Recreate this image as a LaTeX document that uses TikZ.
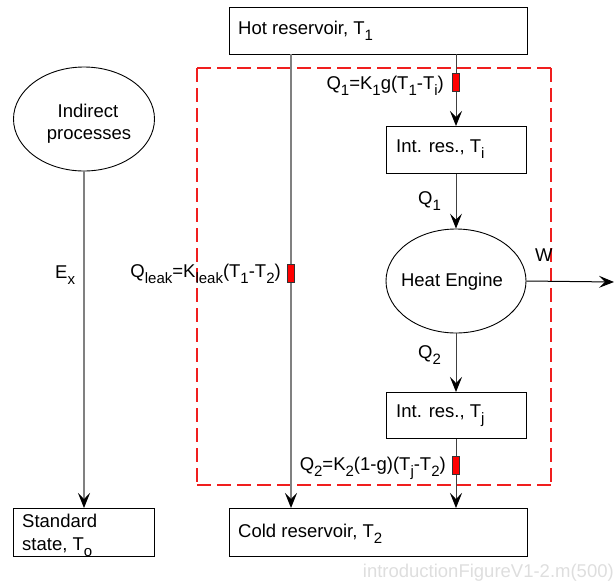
\documentclass[tikz,border=0pt]{standalone}
\usepackage{fontspec}
\setmainfont{Liberation Sans}
\usetikzlibrary{arrows.meta,shapes.geometric}
\definecolor{dashred}{RGB}{240,30,30}
\newcommand\lsub[1]{\raisebox{-6pt}{\fontsize{15}{15}\selectfont #1}}
\begin{document}
\begin{tikzpicture}[x=1pt,y=-1pt,
  every node/.style={font=\fontsize{18.5}{22}\selectfont, inner sep=0pt},
  boxnode/.style={draw=black, line width=0.9pt, rectangle, anchor=north west},
  ellnode/.style={draw=black, line width=0.9pt, ellipse},
  flow/.style={draw=black!75, line width=1pt},
  leak/.style={draw=black!50, line width=1.6pt},
  tip/.style={-{Stealth[length=15pt,width=12pt,inset=6pt,color=black]}},
  valve/.style={draw=black!80, fill=red, line width=0.6pt},
  lbl/.style={anchor=base east},
  bound/.style={draw=dashred, line width=1.1pt, dash pattern=on 14pt off 6pt},
]
\useasboundingbox (0,0) rectangle (614,582);
% boundary
\coordinate (b1) at (197,68);
\coordinate (b2) at (551,68);
\coordinate (b3) at (551,485);
\coordinate (b4) at (197,485);
\draw[bound] (b1) -- (b2);
\draw[bound] (b2) -- (b3);
\draw[bound] (b4) -- (b3);
\draw[bound] (b1) -- (b4);
% boxes
\node[boxnode, minimum width=298pt, minimum height=47pt] (hot) at (229,7) {};
\node[anchor=base west] at (238,34) {Hot reservoir, T\lsub{1}};
\node[boxnode, minimum width=140pt, minimum height=47pt] (ri) at (386,126) {};
\node[anchor=base west] at (396,152) {Int. res., T\lsub{i}};
\node[boxnode, minimum width=140pt, minimum height=46pt] (rj) at (386,392) {};
\node[anchor=base west] at (396,417) {Int. res., T\lsub{j}};
\node[boxnode, minimum width=298pt, minimum height=48pt] (cold) at (229,508) {};
\node[anchor=base west] at (238,537) {Cold reservoir, T\lsub{2}};
\node[boxnode, minimum width=141pt, minimum height=48pt] (std) at (13,508) {};
\node[anchor=base west] at (22,527) {Standard};
\node[anchor=base west] at (22,550) {state, T\lsub{o}};
% ellipses
\node[ellnode, minimum width=140pt, minimum height=104pt] (he) at (456,281) {};
\node[anchor=base] at (452,286) {Heat Engine};
\node[ellnode, minimum width=141pt, minimum height=104pt] (ind) at (84,119) {};
\node[anchor=base] at (88,117) {Indirect};
\node[anchor=base] at (89,139) {processes};
% coordinates
\coordinate (hq1) at (456,54);
\coordinate (hleak) at (291,54);
\coordinate (cleak) at (291,508);
\coordinate (cq2) at (456,508);
\coordinate (wend) at (614,282);
\coordinate (stdtop) at (84,508);
% connectors
\draw[leak, tip] (hleak) -- (cleak);
\draw[flow, tip] (hq1) -- (ri.north -| hq1);
\draw[flow, tip] (ri.south -| hq1) -- (he.north);
\draw[flow, tip] (he.south) -- (rj.north -| hq1);
\draw[flow, tip] (rj.south -| hq1) -- (cq2);
\draw[flow, draw=black, tip] (he.east) -- (wend);
\draw[leak, line width=1.2pt, tip] (ind.south) -- (stdtop);
% valves
\node[valve, minimum width=7pt, minimum height=18pt] (v1) at (456,82) {};
\node[valve, minimum width=7pt, minimum height=18pt] (vl) at (291,273) {};
\node[valve, minimum width=7pt, minimum height=18pt] (v2) at (456,465) {};
% labels
\node[lbl] at (444,89) {Q\lsub{1}=K\lsub{1}g(T\lsub{1}-T\lsub{i})};
\node[lbl] at (281,277) {Q\lsub{leak}=K\lsub{leak}(T\lsub{1}-T\lsub{2})};
\node[lbl] at (446,470) {Q\lsub{2}=K\lsub{2}(1-g)(T\lsub{j}-T\lsub{2})};
\node[anchor=base west] at (418,204) {Q\lsub{1}};
\node[anchor=base west] at (418,358) {Q\lsub{2}};
\node[anchor=base west] at (535,261) {W};
\node[anchor=base west] at (55,278) {E\lsub{x}};
% watermark
\node[anchor=base east, text=black!13] at (614,577) {introductionFigureV1-2.m(500)};
\end{tikzpicture}
\end{document}
